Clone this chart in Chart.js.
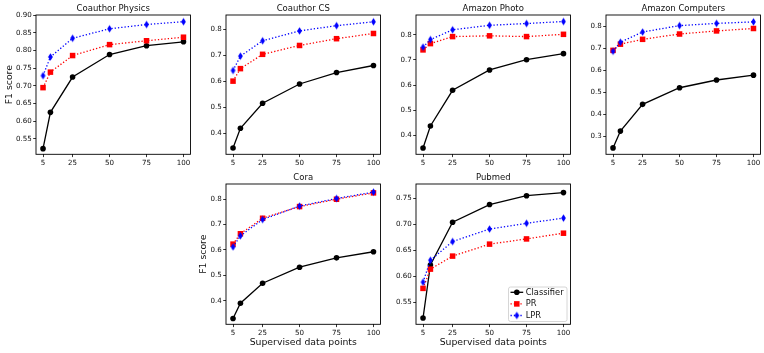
<!DOCTYPE html>
<html><head><meta charset="utf-8">
<script src="https://cdn.jsdelivr.net/npm/chart.js@4/dist/chart.umd.min.js"></script>
<style>
html,body{margin:0;padding:0;background:#fff;width:764px;height:353px;overflow:hidden;position:relative;}
canvas{position:absolute;}
</style></head><body>
<canvas id="c0"></canvas><canvas id="c1"></canvas><canvas id="c2"></canvas>
<canvas id="c3"></canvas><canvas id="c4"></canvas><canvas id="c5"></canvas>
<script>
// ---------- data ----------
const xValues = [5, 10, 25, 50, 75, 100];
const xTickLabels = ['5', '25', '50', '75', '100'];
const seriesNames = ['Classifier', 'PR', 'LPR'];
const panelTitles = ['Coauthor Physics', 'Coauthor CS', 'Amazon Photo', 'Amazon Computers', 'Cora', 'Pubmed'];
const yAxisTitle = 'F1 score';
const xAxisTitle = 'Supervised data points';

const physicsClassifier = [0.522, 0.625, 0.725, 0.789, 0.814, 0.825];
const physicsPR         = [0.695, 0.739, 0.786, 0.817, 0.828, 0.838];
const physicsLPR        = [0.729, 0.782, 0.835, 0.862, 0.874, 0.882];
const physicsYLabels    = ['0.55', '0.60', '0.65', '0.70', '0.75', '0.80', '0.85', '0.90'];

const csClassifier = [0.343, 0.419, 0.515, 0.589, 0.633, 0.660];
const csPR         = [0.600, 0.648, 0.703, 0.737, 0.763, 0.783];
const csLPR        = [0.641, 0.696, 0.755, 0.793, 0.813, 0.828];
const csYLabels    = ['0.4', '0.5', '0.6', '0.7', '0.8'];

const photoClassifier = [0.349, 0.437, 0.579, 0.660, 0.701, 0.725];
const photoPR         = [0.740, 0.765, 0.793, 0.796, 0.793, 0.802];
const photoLPR        = [0.751, 0.781, 0.820, 0.838, 0.845, 0.853];
const photoYLabels    = ['0.4', '0.5', '0.6', '0.7', '0.8'];

const computersClassifier = [0.249, 0.325, 0.446, 0.521, 0.556, 0.578];
const computersPR         = [0.690, 0.718, 0.740, 0.764, 0.778, 0.789];
const computersLPR        = [0.686, 0.727, 0.773, 0.802, 0.812, 0.819];
const computersYLabels    = ['0.3', '0.4', '0.5', '0.6', '0.7', '0.8'];

const coraClassifier = [0.330, 0.390, 0.469, 0.532, 0.569, 0.593];
const coraPR         = [0.623, 0.664, 0.725, 0.771, 0.800, 0.825];
const coraLPR        = [0.612, 0.656, 0.720, 0.773, 0.803, 0.828];
const coraYLabels    = ['0.4', '0.5', '0.6', '0.7', '0.8'];

const pubmedClassifier = [0.520, 0.622, 0.704, 0.738, 0.755, 0.761];
const pubmedPR         = [0.577, 0.614, 0.639, 0.662, 0.672, 0.683];
const pubmedLPR        = [0.589, 0.631, 0.667, 0.691, 0.702, 0.712];
const pubmedYLabels    = ['0.55', '0.60', '0.65', '0.70', '0.75'];

// ---------- styling / layout ----------
const FONT = "'DejaVu Sans', sans-serif";
const TEXT = '#111';
const Y_AXIS_W = 36, RIGHT_PAD = 11.5, CANVAS_W = 202;

// thin diamond marker
function thinDiamond() {
  const c = document.createElement('canvas');
  c.width = 7; c.height = 10;
  const g = c.getContext('2d');
  g.fillStyle = '#0000ff';
  g.beginPath();
  g.moveTo(3.5, 1.2); g.lineTo(5.9, 5); g.lineTo(3.5, 8.8); g.lineTo(1.1, 5); g.closePath();
  g.fill();
  return c;
}
const diamondImg = thinDiamond();

const seriesStyles = [
  {color: '#000000', dash: [], width: 1.3, pointStyle: 'circle', radius: 2.8, order: 2},
  {color: '#ff0000', dash: [1.3, 2.0], width: 1.3, pointStyle: 'rect', radius: 3.9, order: 1},
  {color: '#0000ff', dash: [1.3, 2.0], width: 1.3, pointStyle: diamondImg, radius: 3.5, order: 0}
];

const framePlugin = {
  id: 'frame',
  afterDatasetsDraw(chart) {
    const a = chart.chartArea, ctx = chart.ctx;
    ctx.save();
    ctx.strokeStyle = '#000'; ctx.lineWidth = 0.9;
    ctx.strokeRect(a.left, a.top, a.right - a.left, a.bottom - a.top);
    ctx.restore();
  }
};

function drawMarker(ctx, st, x, y) {
  ctx.fillStyle = st.color;
  if (st.pointStyle === 'circle') {
    ctx.beginPath(); ctx.arc(x, y, st.radius, 0, Math.PI * 2); ctx.fill();
  } else if (st.pointStyle === 'rect') {
    const s = st.radius * Math.SQRT1_2;
    ctx.fillRect(x - s, y - s, 2 * s, 2 * s);
  } else {
    ctx.drawImage(st.pointStyle, x - 3.5, y - 5);
  }
}

const legendPlugin = {
  id: 'insideLegend',
  afterDraw(chart, args, opts) {
    if (!opts || !opts.show) return;
    const a = chart.chartArea, ctx = chart.ctx;
    const bw = 58.5, bh = 34.5;
    const bx = a.right - 3.5 - bw, by = a.bottom - 2.8 - bh;
    ctx.save();
    ctx.beginPath();
    if (ctx.roundRect) ctx.roundRect(bx, by, bw, bh, 2); else ctx.rect(bx, by, bw, bh);
    ctx.fillStyle = 'rgba(255,255,255,0.8)'; ctx.fill();
    ctx.strokeStyle = '#cccccc'; ctx.lineWidth = 0.8; ctx.stroke();
    ctx.font = '8.3px ' + FONT;
    ctx.textBaseline = 'middle'; ctx.textAlign = 'left';
    seriesNames.forEach((name, i) => {
      const st = seriesStyles[i];
      const cy = by + 5.3 + i * 11.6;
      ctx.strokeStyle = st.color; ctx.lineWidth = st.width; ctx.setLineDash(st.dash);
      ctx.beginPath(); ctx.moveTo(bx + 2, cy); ctx.lineTo(bx + 14.7, cy); ctx.stroke();
      ctx.setLineDash([]);
      drawMarker(ctx, st, bx + 8.3, cy);
      ctx.fillStyle = TEXT;
      ctx.fillText(name, bx + 17.2, cy + 0.3);
    });
    ctx.restore();
  }
};

const panels = [
  {id: 'c0', t: 0, series: [physicsClassifier, physicsPR, physicsLPR], yl: physicsYLabels, min: 0.506, max: 0.901, left: 0, top: 0, h: 182, xh: 27.7, yTitle: true, yPad: 4.4},
  {id: 'c1', t: 1, series: [csClassifier, csPR, csLPR], yl: csYLabels, min: 0.319, max: 0.854, left: 190, top: 0, h: 182, xh: 27.7},
  {id: 'c2', t: 2, series: [photoClassifier, photoPR, photoLPR], yl: photoYLabels, min: 0.324, max: 0.879, left: 380, top: 0, h: 182, xh: 27.7},
  {id: 'c3', t: 3, series: [computersClassifier, computersPR, computersLPR], yl: computersYLabels, min: 0.220, max: 0.850, left: 570, top: 0, h: 182, xh: 27.7},
  {id: 'c4', t: 4, series: [coraClassifier, coraPR, coraLPR], yl: coraYLabels, min: 0.307, max: 0.860, left: 190, top: 169, h: 184, xh: 28.7, yTitle: true, yPad: 7.7, xTitle: true},
  {id: 'c5', t: 5, series: [pubmedClassifier, pubmedPR, pubmedLPR], yl: pubmedYLabels, min: 0.508, max: 0.7775, left: 380, top: 169, h: 184, xh: 28.7, xTitle: true, legend: true}
];

panels.forEach(p => {
  const cv = document.getElementById(p.id);
  cv.width = CANVAS_W; cv.height = p.h;
  cv.style.left = p.left + 'px'; cv.style.top = p.top + 'px';
  cv.style.width = CANVAS_W + 'px'; cv.style.height = p.h + 'px';
  const yVals = p.yl.map(parseFloat);
  const xVals = xTickLabels.map(parseFloat);
  const datasets = p.series.map((vals, i) => {
    const st = seriesStyles[i];
    return {
      label: seriesNames[i],
      data: xValues.map((x, k) => ({x: x, y: vals[k]})),
      borderColor: st.color, backgroundColor: st.color,
      borderWidth: st.width, borderDash: st.dash,
      pointStyle: st.pointStyle, pointRadius: st.radius, pointHoverRadius: st.radius,
      pointBorderWidth: 0, pointBackgroundColor: st.color,
      tension: 0, order: st.order, clip: false, fill: false
    };
  });
  new Chart(cv, {
    type: 'line',
    data: {datasets},
    plugins: [framePlugin, legendPlugin],
    options: {
      responsive: false, animation: false, devicePixelRatio: 1,
      layout: {padding: {left: 0, right: RIGHT_PAD, top: 0, bottom: 0}},
      plugins: {
        legend: {display: false}, tooltip: {enabled: false},
        title: {display: true, text: panelTitles[p.t], fullSize: false, color: TEXT,
          font: {family: FONT, size: 8.5, weight: 'normal'}, padding: {top: 3.8, bottom: 1}},
        insideLegend: {show: !!p.legend}
      },
      scales: {
        x: {
          type: 'linear', min: 0.25, max: 104.75,
          afterFit(s) { s.height = p.xh; s.paddingLeft = 0; s.paddingRight = 0; },
          afterBuildTicks(s) { s.ticks = xVals.map(v => ({value: v})); },
          border: {display: false},
          grid: {display: true, drawOnChartArea: false, drawTicks: true, tickLength: 2.8, tickWidth: 0.8, tickColor: '#000'},
          ticks: {autoSkip: false, maxRotation: 0, padding: 1.5, color: TEXT,
            font: {family: FONT, size: 7.1}, callback: (v, i) => xTickLabels[i]},
          title: {display: !!p.xTitle, text: xAxisTitle, color: TEXT,
            font: {family: FONT, size: 9.3}, padding: {top: 0, bottom: 4.7}}
        },
        y: {
          type: 'linear', min: p.min, max: p.max,
          afterFit(s) { s.width = Y_AXIS_W; s.paddingTop = 0; s.paddingBottom = 0; },
          afterBuildTicks(s) { s.ticks = yVals.map(v => ({value: v})); },
          border: {display: false},
          grid: {display: true, drawOnChartArea: false, drawTicks: true, tickLength: 2.8, tickWidth: 0.8, tickColor: '#000'},
          ticks: {autoSkip: false, padding: 1.5, color: TEXT,
            font: {family: FONT, size: 7.1}, callback: (v, i) => p.yl[i]},
          title: {display: !!p.yTitle, text: yAxisTitle, color: TEXT,
            font: {family: FONT, size: 9.3}, padding: {top: p.yPad || 0, bottom: 0}}
        }
      }
    }
  });
});
</script>
</body></html>
